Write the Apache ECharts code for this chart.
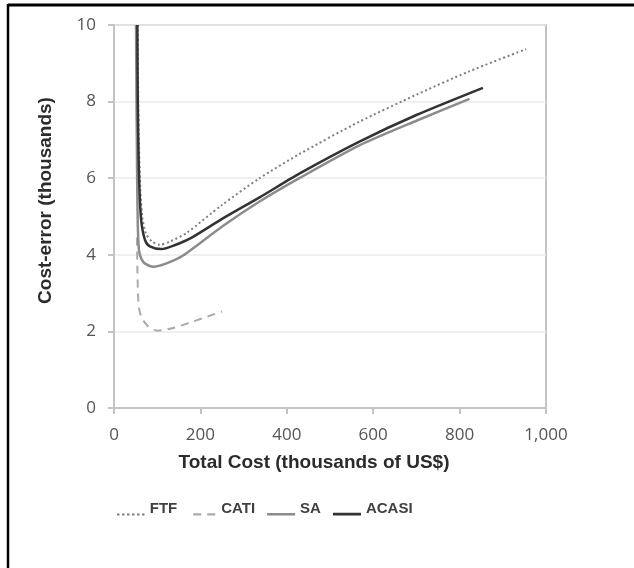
<!DOCTYPE html>
<html>
<head>
<meta charset="utf-8">
<script src="https://cdn.jsdelivr.net/npm/echarts@6/dist/echarts.min.js"></script>
<style>
    html, body { margin: 0; padding: 0; background: #fff; }
    #chart { width: 634px; height: 568px; }
</style>
</head>
<body>
<div id="chart"></div>
<script>
// [total cost (thousands US$), cost-error (thousands)]
var ftfData = [[55, 10], [56, 8.2], [58, 6.8], [61, 5.7], [66, 4.95], [74, 4.55], [88, 4.35], [106, 4.26], [130, 4.35], [168, 4.57], [250, 5.3], [337, 6.0], [429, 6.63], [567, 7.47], [700, 8.18], [820, 8.78], [954, 9.37]];
var catiData = [[53, 4.45], [54, 3.7], [55.5, 3.0], [58, 2.6], [63, 2.38], [68, 2.28], [79, 2.13], [100, 2.02], [137, 2.09], [183, 2.26], [250, 2.52]];
var saData = [[51, 10], [52, 8.2], [53, 6.8], [54, 5.6], [55.5, 4.6], [58, 4.1], [64, 3.88], [72, 3.77], [91, 3.69], [120, 3.77], [160, 3.98], [252, 4.75], [337, 5.39], [429, 6.0], [567, 6.85], [700, 7.5], [823, 8.07]];
var acasiData = [[54, 10], [55, 8], [57, 6.5], [60, 5.4], [64, 4.8], [72, 4.38], [83, 4.22], [110, 4.15], [140, 4.25], [180, 4.45], [252, 4.95], [337, 5.5], [429, 6.12], [567, 6.95], [700, 7.65], [854, 8.36]];
var seriesNames = ["FTF", "CATI", "SA", "ACASI"];

// legend samples drawn at the bottom of a 28x14 box (tiny anchor keeps the box size)
var anchor = "M0,0 L0.01,0 L0.01,0.01 Z ";
var legendIcons = {
    FTF: "path://" + anchor + "M0,12 h2.5 v2 h-2.5 Z M5,12 h2.5 v2 h-2.5 Z M10,12 h2.5 v2 h-2.5 Z M15,12 h2.5 v2 h-2.5 Z M20,12 h2.5 v2 h-2.5 Z M25,12 h2.5 v2 h-2.5 Z",
    CATI: "path://" + anchor + "M4,11.8 h8 v2.2 h-8 Z M18,11.8 h8 v2.2 h-8 Z",
    SA: "path://" + anchor + "M0,11.5 h28 v2.5 h-28 Z",
    ACASI: "path://" + anchor + "M0,11.2 h28 v2.8 h-28 Z"
};

var chart = echarts.init(document.getElementById("chart"));

function lineSeries(name, data, color, width, type) {
    return {
        name: name,
        type: "line",
        data: data,
        smooth: 0.25,
        showSymbol: false,
        symbol: "none",
        itemStyle: { color: color },
        lineStyle: { color: color, width: width, type: type, cap: "butt" },
        emphasis: { disabled: true }
    };
}

chart.setOption({
    animation: false,
    grid: {
        left: 114,
        right: 88,
        top: 25,
        bottom: 160,
        show: true,
        borderColor: "#c4c4c4",
        borderWidth: 2
    },
    legend: {
        data: seriesNames.map(function (n) { return { name: n, icon: legendIcons[n] }; }),
        left: 112,
        top: 496,
        itemWidth: 28,
        itemHeight: 14,
        itemGap: 12,
        textStyle: {
            fontFamily: "Liberation Sans",
            fontWeight: "bold",
            fontSize: 15,
            color: "#404040"
        }
    },
    xAxis: {
        type: "value",
        min: 0,
        max: 1000,
        interval: 200,
        name: "Total Cost (thousands of US$)",
        nameLocation: "middle",
        nameGap: 45,
        nameTextStyle: {
            fontFamily: "Liberation Sans",
            fontWeight: "bold",
            fontSize: 19,
            color: "#2b2b2b",
            padding: [0, 32, 0, 0]
        },
        axisLine: { show: true, lineStyle: { color: "#c4c4c4", width: 2 } },
        axisTick: { show: true, length: 6, lineStyle: { color: "#c4c4c4", width: 2 } },
        splitLine: { show: false },
        axisLabel: {
            margin: 19,
            fontFamily: "Open Sans",
            fontSize: 17,
            color: "#555555",
            formatter: function (v) { return v.toLocaleString("en-US"); }
        }
    },
    yAxis: {
        type: "value",
        min: 0,
        max: 10,
        interval: 2,
        name: "Cost-error (thousands)",
        nameLocation: "middle",
        nameGap: 59,
        nameTextStyle: {
            fontFamily: "Liberation Sans",
            fontWeight: "bold",
            fontSize: 19,
            color: "#2b2b2b",
            padding: [0, 0, 0, 32]
        },
        axisLine: { show: true, lineStyle: { color: "#c4c4c4", width: 2 } },
        axisTick: { show: true, length: 6, lineStyle: { color: "#c4c4c4", width: 2 } },
        splitLine: { show: true, lineStyle: { color: "#ebebeb", width: 1.5 } },
        axisLabel: {
            margin: 18,
            fontFamily: "Open Sans",
            fontSize: 17,
            color: "#555555"
        }
    },
    graphic: [
        { type: "line", shape: { x1: 8, y1: 5, x2: 634, y2: 5 }, style: { stroke: "#000", lineWidth: 3 } },
        { type: "line", shape: { x1: 8, y1: 4, x2: 8, y2: 568 }, style: { stroke: "#000", lineWidth: 2.5 } }
    ],
    series: [
        lineSeries("FTF", ftfData, "#7f7f7f", 2, [2, 2.7]),
        lineSeries("CATI", catiData, "#ababab", 2, [8, 6]),
        lineSeries("SA", saData, "#8c8c8c", 2.5, "solid"),
        lineSeries("ACASI", acasiData, "#333333", 2.5, "solid")
    ]
});
</script>
</body>
</html>
